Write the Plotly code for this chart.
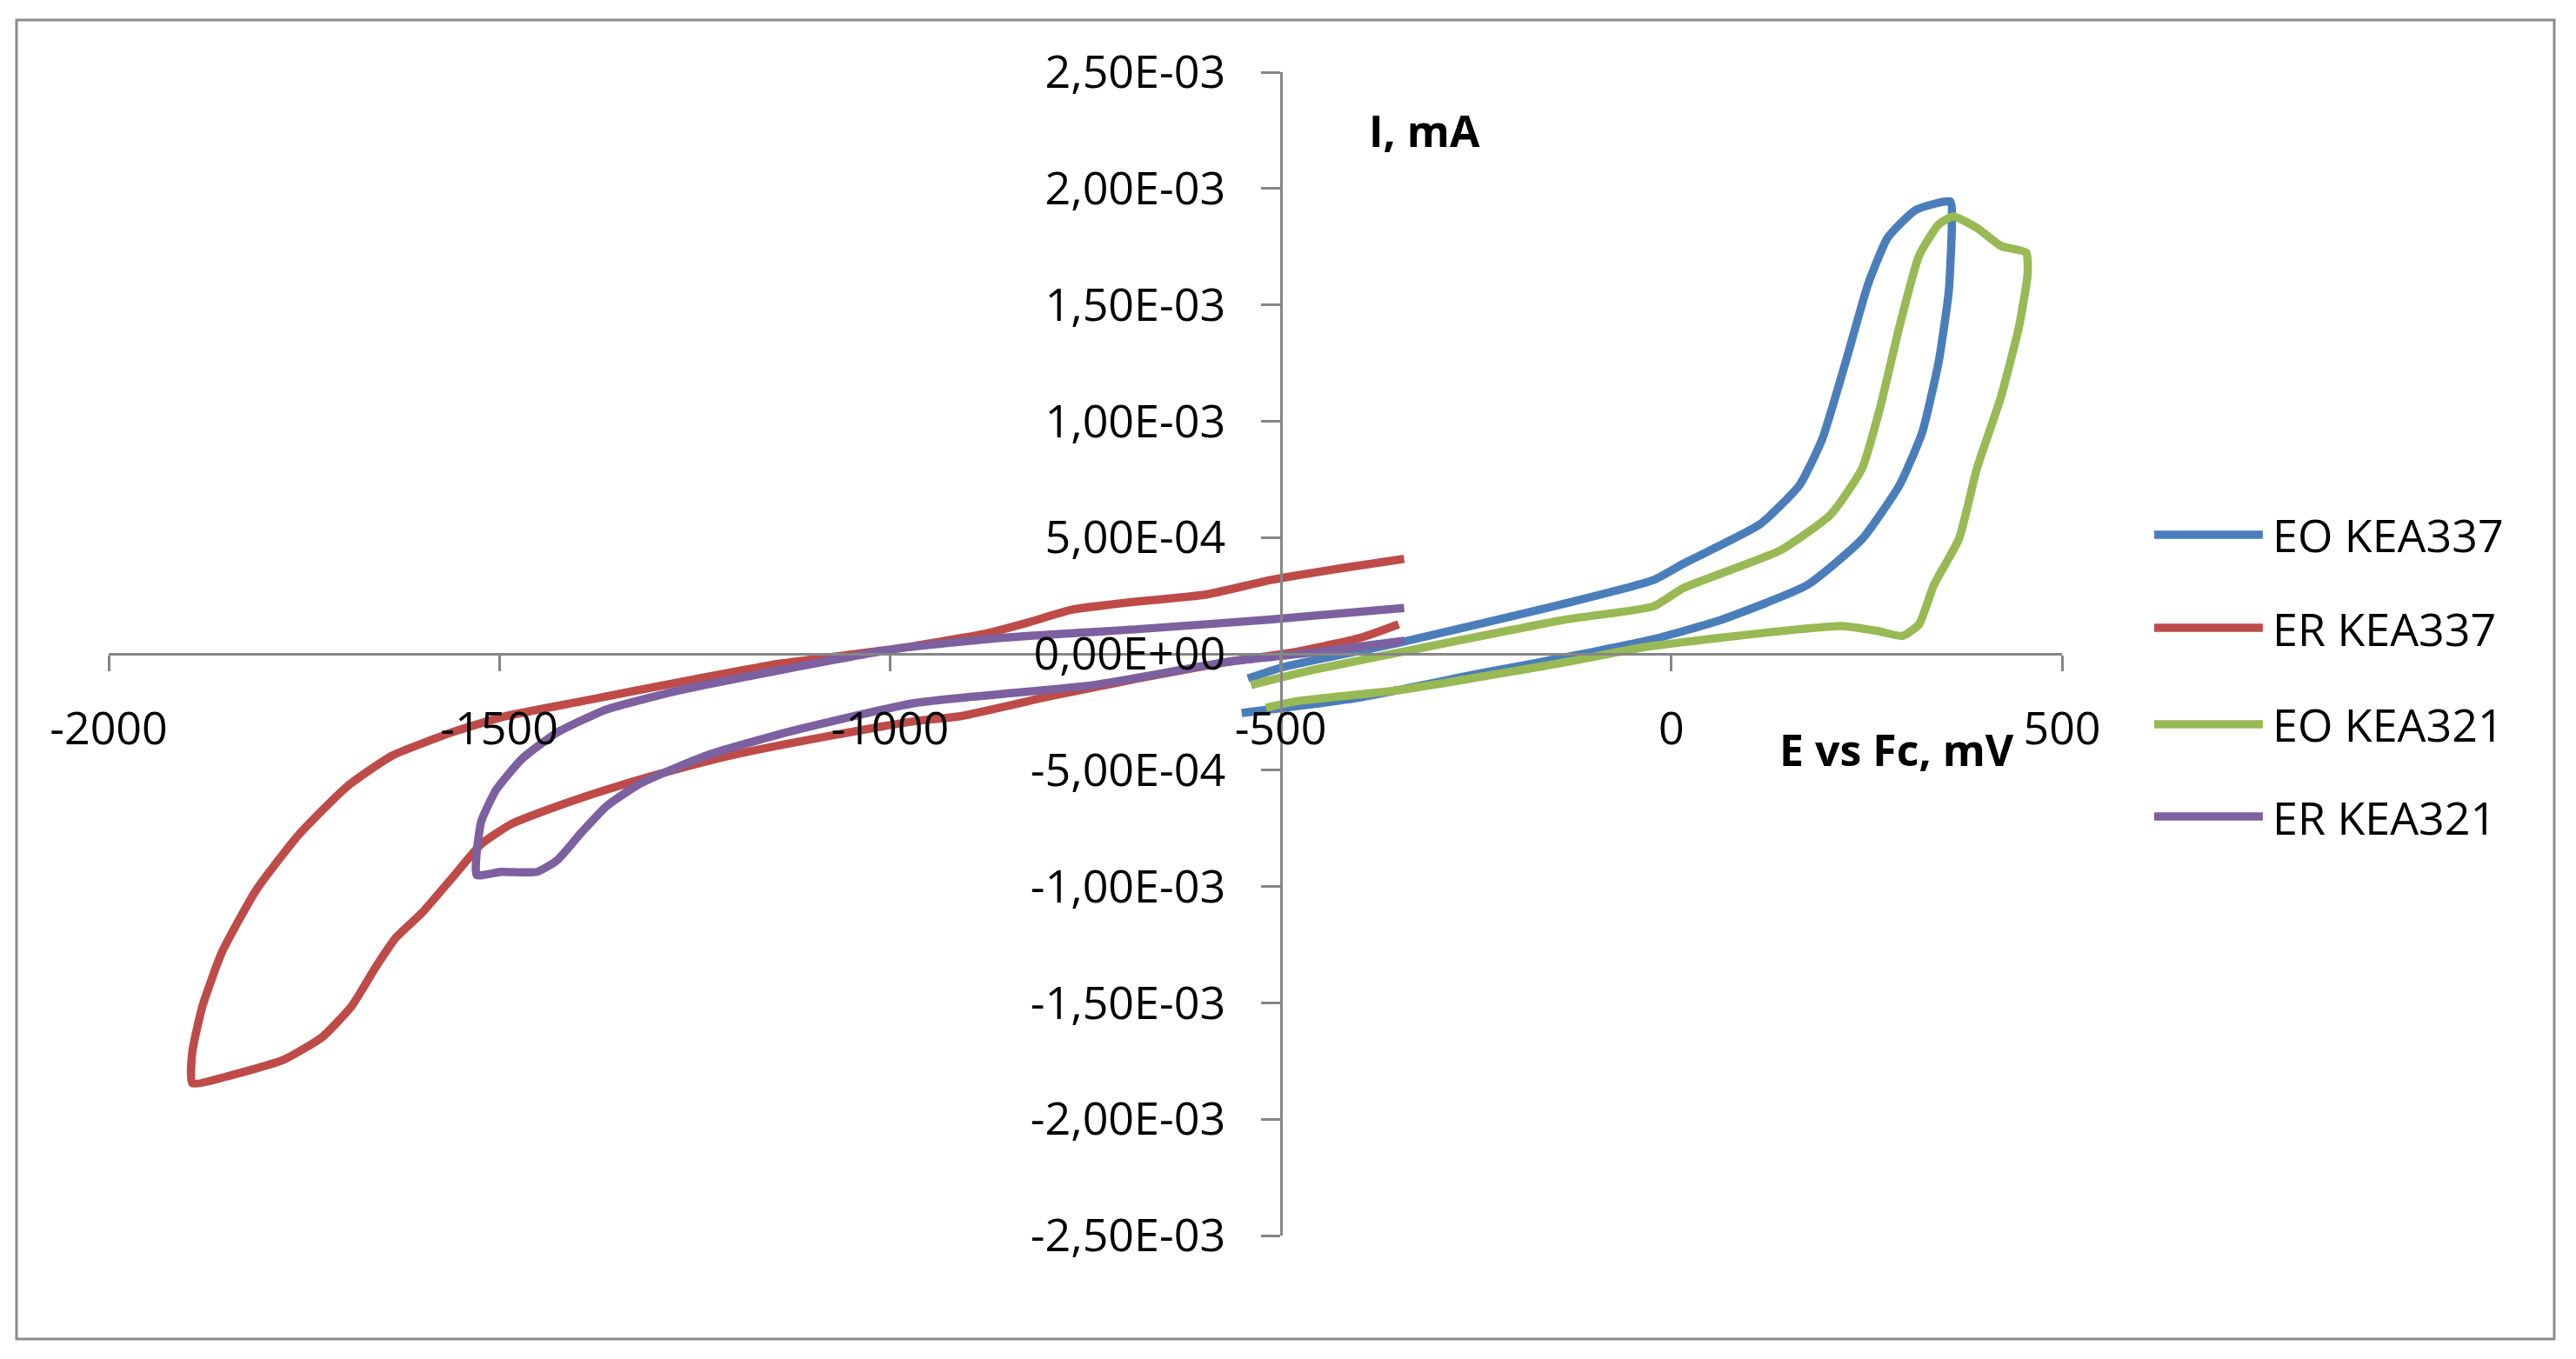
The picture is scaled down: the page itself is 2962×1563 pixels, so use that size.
import plotly.graph_objects as go

# cyclic voltammograms (E in mV vs Fc, I in mA)
series_names = ["EO KEA337", "ER KEA337", "EO KEA321", "ER KEA321"]
series_colors = ["#4A7EBB", "#BE4B48", "#98B954", "#7D60A0"]

eo337_e = [-542, -496, -347, -134, -23, 15, 113, 164, 193, 223, 252, 277, 313, 357,
           359, 355, 342, 321, 292, 244, 174, 65, -23, -134, -246, -403, -550]
eo337_i = [-1.06e-4, -5.6e-5, 4.9e-5, 2.18e-4, 3.17e-4, 3.87e-4, 5.56e-4, 7.25e-4,
           9.22e-4, 1.253e-3, 1.591e-3, 1.789e-3, 1.908e-3, 1.944e-3,
           1.845e-3, 1.556e-3, 1.253e-3, 9.51e-4, 7.25e-4, 4.93e-4, 2.96e-4,
           1.48e-4, 6.3e-5, -1.4e-5, -8.5e-5, -1.9e-4, -2.54e-4]

er337_e = [-342, -426, -513, -597, -683, -767, -824, -880, -994, -1141, -1267, -1395,
           -1492, -1555, -1637, -1695, -1758, -1811, -1855, -1880, -1893, -1893,
           -1842, -1777, -1727, -1689, -1658, -1632, -1599, -1561, -1523, -1485,
           -1426, -1363, -1300, -1204, -1076, -968, -910, -796, -683, -569, -483,
           -397, -349]
er337_i = [4.08e-4, 3.66e-4, 3.17e-4, 2.54e-4, 2.25e-4, 1.90e-4, 1.34e-4, 8.5e-5,
           2.1e-5, -4.2e-5, -1.20e-4, -2.04e-4, -2.68e-4, -3.31e-4, -4.37e-4,
           -5.70e-4, -7.82e-4, -1.014e-3, -1.282e-3, -1.514e-3, -1.711e-3, -1.845e-3,
           -1.810e-3, -1.746e-3, -1.648e-3, -1.514e-3, -1.345e-3, -1.218e-3,
           -1.113e-3, -9.65e-4, -8.17e-4, -7.32e-4, -6.55e-4, -5.84e-4, -5.21e-4,
           -4.37e-4, -3.52e-4, -2.89e-4, -2.68e-4, -1.83e-4, -1.06e-4, -3.5e-5,
           7e-6, 7.0e-5, 1.27e-4]

eo321_e = [-538, -460, -347, -134, -23, 15, 139, 204, 244, 267, 292, 317, 342, 361,
           391, 422, 454, 456, 445, 422, 391, 368, 336, 317, 296, 263, 218, 164,
           65, -36, -134, -347, -481, -519]
eo321_i = [-1.34e-4, -7.0e-5, 7e-6, 1.48e-4, 2.04e-4, 2.82e-4, 4.44e-4, 5.99e-4,
           7.96e-4, 1.056e-3, 1.408e-3, 1.711e-3, 1.845e-3, 1.880e-3, 1.831e-3,
           1.753e-3, 1.725e-3, 1.634e-3, 1.408e-3, 1.106e-3, 7.96e-4, 4.93e-4,
           2.96e-4, 1.27e-4, 7.7e-5, 9.9e-5, 1.2e-4, 1.06e-4, 7.0e-5, 2.8e-5,
           -3.5e-5, -1.55e-4, -2.04e-4, -2.32e-4]

er321_e = [-342, -513, -683, -853, -994, -1141, -1267, -1363, -1426, -1471, -1504,
           -1523, -1529, -1529, -1498, -1452, -1426, -1395, -1363, -1319, -1235,
           -1141, -968, -739, -569, -456, -342]
er321_i = [1.97e-4, 1.48e-4, 1.06e-4, 7.0e-5, 2.1e-5, -7.0e-5, -1.55e-4, -2.39e-4,
           -3.38e-4, -4.51e-4, -5.84e-4, -7.18e-4, -8.52e-4, -9.51e-4, -9.37e-4,
           -9.37e-4, -8.87e-4, -7.68e-4, -6.55e-4, -5.56e-4, -4.37e-4, -3.45e-4,
           -2.11e-4, -1.34e-4, -3.5e-5, 7e-6, 5.6e-5]

x_ticks = [-2000, -1500, -1000, -500, 0, 500]
y_ticks = [-2.5e-3, -2.0e-3, -1.5e-3, -1.0e-3, -5.0e-4, 0.0, 5.0e-4, 1.0e-3, 1.5e-3, 2.0e-3, 2.5e-3]

AXIS = "#868686"
FONT = "Open Sans"


def excel_sci(v):
    # Excel style with a comma as decimal separator: 2,50E-03
    return f"{v:.2E}".replace(".", ",")


fig = go.Figure()
all_e = [eo337_e, er337_e, eo321_e, er321_e]
all_i = [eo337_i, er337_i, eo321_i, er321_i]
for name, color, e, i in zip(series_names, series_colors, all_e, all_i):
    fig.add_trace(go.Scatter(x=e, y=i, name=name, mode="lines",
                             line={"color": color, "width": 9.5,
                                   "shape": "spline", "smoothing": 0.5}))

# legend drawn by hand so that the sample lines are as long as in Excel
legend_y = [0.6024, 0.5224, 0.4395, 0.3602]
for name, color, ly in zip(series_names, series_colors, legend_y):
    fig.add_shape(type="line", xref="paper", yref="paper", x0=1.0472, x1=1.1028,
                  y0=ly, y1=ly, line={"color": color, "width": 9.5})
    fig.add_annotation(text=name, xref="paper", yref="paper", x=1.1069, y=ly,
                       xanchor="left", yanchor="middle", showarrow=False,
                       font={"family": FONT, "size": 52, "color": "black"})

# outer chart border
fig.add_shape(type="rect", xref="paper", yref="paper", x0=-0.0472, x1=1.2520,
              y0=-0.0889, y1=1.0448, line={"color": "#8c8c8c", "width": 3}, layer="below")

fig.add_annotation(text="<b>I, mA</b>", xref="paper", yref="paper", x=0.6736, y=0.950,
                   xanchor="center", yanchor="middle", showarrow=False,
                   font={"family": FONT, "size": 50, "color": "black"})
fig.add_annotation(text="<b>E vs Fc, mV</b>", xref="paper", yref="paper", x=0.9154, y=0.4178,
                   xanchor="center", yanchor="middle", showarrow=False,
                   font={"family": FONT, "size": 50, "color": "black"})

fig.update_layout(
    width=2962,
    height=1563,
    margin={"l": 125, "r": 591, "t": 83, "b": 142},
    paper_bgcolor="white",
    plot_bgcolor="white",
    showlegend=False,
    font={"family": FONT, "size": 52, "color": "black"},
    xaxis={
        "range": [-2000, 500],
        "tickvals": x_ticks,
        "ticktext": [str(v) for v in x_ticks],
        "showgrid": False,
        "zeroline": False,
        "showline": True,
        "linecolor": AXIS,
        "linewidth": 3,
        "ticks": "outside",
        "ticklen": 18,
        "tickwidth": 3,
        "tickcolor": AXIS,
        "anchor": "free",
        "position": 0.5,
        "ticklabelstandoff": 22,
        "tickfont": {"family": FONT, "size": 52, "color": "black"},
    },
    yaxis={
        "range": [-2.5e-3, 2.5e-3],
        "tickvals": y_ticks,
        "ticktext": [excel_sci(v) for v in y_ticks],
        "showgrid": False,
        "zeroline": False,
        "showline": True,
        "linecolor": AXIS,
        "linewidth": 3,
        "ticks": "outside",
        "ticklen": 22,
        "tickwidth": 3,
        "tickcolor": AXIS,
        "anchor": "free",
        "position": 0.6,
        "ticklabelstandoff": 30,
        "tickfont": {"family": FONT, "size": 52, "color": "black"},
    },
)

fig.write_html("out.html", config={"displayModeBar": False},
               post_script="document.body.style.margin='0';")
